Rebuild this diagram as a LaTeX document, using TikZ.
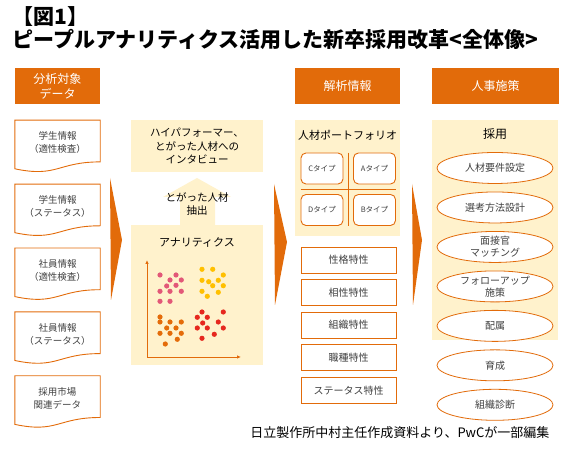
\documentclass[tikz,border=0pt]{standalone}
\usepackage{fontspec}
\setmainfont{Noto Sans CJK JP}
\usepackage{xcolor}
\usetikzlibrary{arrows.meta,calc,positioning,shapes.geometric}

\definecolor{pwcorange}{RGB}{226,107,10}
\definecolor{pale}{RGB}{255,242,204}
\definecolor{txtgray}{RGB}{64,64,64}
\definecolor{dpink}{RGB}{226,88,120}
\definecolor{dyellow}{RGB}{255,192,0}
\definecolor{dorange}{RGB}{228,108,10}
\definecolor{dred}{RGB}{230,40,30}

% outline of a data sheet with a wavy lower edge
\newcommand\docoutline[1]{%
  \draw[pwcorange,line width=0.9pt] (#1.north west) -- (#1.north east) -- ++(0,-41.7)
    .. controls ($(#1.north)+(0,-41.7)$) and ($(#1.north)+(0,-57.6)$) .. ($(#1.north west)+(0,-48.6)$) -- cycle;}

\begin{document}
\begin{tikzpicture}[x=1pt,y=1pt,node distance=19.5pt,>={Latex[length=4pt,width=3.5pt]},
  hdr/.style={fill=pwcorange,text=white,minimum height=36pt,align=center,inner sep=0pt,font=\fontsize{12}{15}\selectfont},
  doc/.style={minimum width=85pt,minimum height=44pt,align=center,inner sep=0pt,text=txtgray,font=\fontsize{9.5}{13}\selectfont},
  pnl/.style={fill=pale,inner sep=0pt,align=center},
  chr/.style={draw=pwcorange,line width=0.9pt,fill=white,minimum width=95pt,minimum height=26pt,inner sep=0pt,text=txtgray,font=\fontsize{10}{12}\selectfont},
  quad/.style={draw=pwcorange,line width=0.9pt,fill=white,rounded corners=5pt,minimum width=42pt,minimum height=31pt,inner sep=0pt,text=txtgray,font=\fontsize{7.5}{9}\selectfont},
  ell/.style={ellipse,draw=pwcorange,line width=0.8pt,fill=white,minimum width=116pt,minimum height=31pt,inner sep=0pt,align=center,text=txtgray,font=\fontsize{10}{12}\selectfont},
  bigarr/.style={fill=pwcorange}]
\useasboundingbox (0,0) rectangle (574,449);

% title
\node[anchor=north west,align=left,font=\fontsize{21}{23.5}\selectfont\bfseries] (title) at (9,446)
  {【図1】\\ピープルアナリティクス活用した新卒採用改革<全体像>};

% data sources
\node[hdr,minimum width=85pt] (srch) at (57.5,363) {分析対象\\データ};
\node[doc,below=16pt of srch] (d1) {学生情報\\（適性検査）};
\node[doc,below=of d1] (d2) {学生情報\\（ステータス）};
\node[doc,below=of d2] (d3) {社員情報\\（適性検査）};
\node[doc,below=of d3] (d4) {社員情報\\（ステータス）};
\node[doc,below=of d4] (d5) {採用市場\\関連データ};
\foreach \n in {d1,d2,d3,d4,d5} \docoutline{\n};

\fill[bigarr] (110,271) -- (122,209) -- (111,149) -- cycle;

% analytics
\node[pnl,minimum width=132pt,minimum height=52pt,font=\fontsize{10.5}{13.5}\selectfont] (intv) at (197,303)
  {ハイパフォーマー、\\とがった人材への\\インタビュー};
\node[pnl,minimum width=132pt,minimum height=140pt] (anly) at (197,154) {};
\fill[pale] (180,224) -- (180,252) -- (163,252) -- (197,271) -- (231,252) -- (215,252) -- (215,224) -- cycle;
\node[align=center,font=\fontsize{10.5}{13.5}\selectfont] (pick) at (197,245) {とがった人材\\抽出};
\node[below=9pt of anly.north,font=\fontsize{11}{13}\selectfont] (anlyt) {アナリティクス};
\coordinate (org) at (147,92);
\draw[pwcorange,line width=0.9pt,->] (org) -- ++(0,97);
\draw[pwcorange,line width=0.9pt,->] (org) -- ++(94,0);
\foreach \x/\y in {160/174,176/174,170/169,181.3/169,166.7/163,176/163.7,160/157.7,170/157.7,181.3/157.7,160/147.7,170/147.7}
  \fill[dpink] (\x,\y) circle (2.6);
\foreach \x/\y in {202/179.7,212.7/179.7,223.3/174,202/168.7,208.7/167.3,218.3/168.7,212.7/163.3,223.3/163.3,202/157.7,218.3/156.7,207.3/152.7}
  \fill[dyellow] (\x,\y) circle (2.6);
\foreach \x/\y in {160/132,160/127,170/127,181.3/127,166.7/121,176/121,160/115.7,170/115.7,181.3/115.7,177.3/109.7,165.3/105}
  \fill[dorange] (\x,\y) circle (2.6);
\foreach \x/\y in {202/137,223.3/137,197.3/131.7,207.3/131.7,202.7/126,218.3/127,197.3/121,207.3/121,223.3/121,214.3/114.7,202/110.7}
  \fill[dred] (\x,\y) circle (2.6);

\fill[bigarr] (274,265) -- (287,207) -- (275,144) -- cycle;

% analysis results
\node[hdr,minimum width=105pt] (anah) at (347.5,363) {解析情報};
\node[pnl,minimum width=105pt,minimum height=116pt,below=16pt of anah] (port) {};
\node[below=6pt of port.north,font=\fontsize{11}{13}\selectfont] (portt) {人材ポートフォリオ};
\node[quad] (qc) at (322,280.5) {Cタイプ};
\node[quad] (qa) at (374.5,280.5) {Aタイプ};
\node[quad] (qd) at (322,239) {Dタイプ};
\node[quad] (qb) at (374.5,239) {Bタイプ};
\draw[pwcorange,line width=1pt] ($(qc.north east)!0.5!(qa.north west)$) -- ($(qd.south east)!0.5!(qb.south west)$);
\draw[pwcorange,line width=1pt] ($(qc.south west)!0.5!(qd.north west)$) -- ($(qa.south east)!0.5!(qb.north east)$);
\node[chr] (c1) at (348.5,189) {性格特性};
\node[chr,below=5.7pt of c1] (c2) {相性特性};
\node[chr,below=5.7pt of c2] (c3) {組織特性};
\node[chr,below=5.7pt of c3] (c4) {職種特性};
\node[chr,below=5.7pt of c4] (c5) {ステータス特性};

\fill[bigarr] (412,265) -- (422,209) -- (413,144) -- cycle;

% HR measures
\node[hdr,minimum width=127pt] (hrh) at (495.5,363) {人事施策};
\node[pnl,minimum width=126pt,minimum height=220pt] (recr) at (495,219) {};
\node[below=5pt of recr.north,font=\fontsize{12}{14}\selectfont] (recrt) {採用};
\node[ell] (e1) at (495,281) {人材要件設定};
\node[ell,below=7.67pt of e1] (e2) {選考方法設計};
\node[ell,below=7.67pt of e2] (e3) {面接官\\マッチング};
\node[ell,below=7.67pt of e3] (e4) {フォローアップ\\施策};
\node[ell,below=7.67pt of e4] (e5) {配属};
\node[ell,below=7.67pt of e5] (e6) {育成};
\node[ell,below=7.67pt of e6] (e7) {組織診断};

\node[anchor=east,font=\fontsize{13}{15}\selectfont] (src) at (553,16) {日立製作所中村主任作成資料より、PwCが一部編集};
\end{tikzpicture}
\end{document}
